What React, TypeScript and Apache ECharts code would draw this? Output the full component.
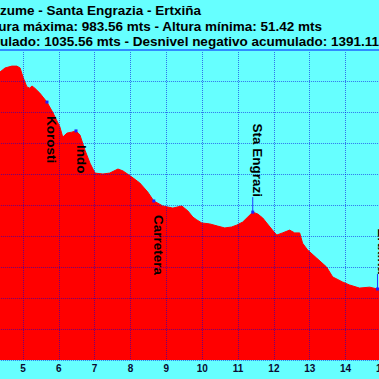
import React, { useEffect, useRef } from "react";
import * as echarts from "echarts";

const distanceKm = [
  4.0, 4.36, 4.5, 4.69, 4.83, 4.92, 5.0, 5.11, 5.19, 5.25, 5.33, 5.47, 5.67, 5.84,
  6.03, 6.11, 6.23, 6.36, 6.48, 6.59, 6.73, 6.87, 7.01, 7.23, 7.42, 7.65, 7.79,
  8.04, 8.26, 8.48, 8.65, 8.9, 9.18, 9.43, 9.6, 9.74, 9.85, 9.99, 10.21, 10.43,
  10.63, 10.82, 10.96, 11.13, 11.27, 11.41, 11.55, 11.69, 11.8, 11.96, 12.08,
  12.24, 12.44, 12.58, 12.72, 12.8, 12.94, 13.19, 13.47, 13.64, 13.91, 14.11,
  14.39, 14.67, 14.89, 15.0,
];
const elevationM = [
  905, 929, 942, 948, 948, 942, 913, 881, 877, 884, 877, 861, 832, 797,
  752, 719, 732, 735, 739, 726, 677, 635, 603, 600, 603, 616, 610,
  590, 571, 542, 513, 497, 490, 497, 481, 461, 452, 442, 439, 432,
  426, 429, 435, 445, 461, 477, 471, 458, 442, 419, 403,
  410, 419, 410, 410, 377, 355, 329, 300, 268, 252, 242,
  232, 235, 229, 225,
];

const waypointNames = ["Korosti", "Indo", "Carretera", "Sta Engrazi", "Ertxiña"];
const waypointKm = [5.67, 6.48, 8.65, 11.41, 14.89];
const waypointElev = [832, 739, 513, 477, 229];
const waypointLabelAbove = [false, false, false, true, true];

const titleLines = [
  "zume - Santa Engrazia - Ertxiña",
  "Altura máxima: 983.56 mts - Altura mínima: 51.42 mts",
  "Desnivel positivo acumulado: 1035.56 mts - Desnivel negativo acumulado: 1391.11 mts",
];

const FONT = '"Liberation Sans", Arial, sans-serif';
// the visible window is a crop of a wider chart canvas
const OX = 30;
const CANVAS_W = 420;

export default function App() {
  const ref = useRef<HTMLDivElement>(null);
  useEffect(() => {
    document.body.style.margin = "0";
    if (!ref.current) return;
    const chart = echarts.init(ref.current, null, { renderer: "svg" });
    const profile = distanceKm.map((d, i) => [d, elevationM[i]]);
    const wps = waypointKm.map((d, i) => [d, waypointElev[i]]);
    const gridLine = { show: true, lineStyle: { color: "rgba(0,0,220,0.55)", type: "dotted", width: 1 } };
    chart.setOption({
      animation: false,
      backgroundColor: "#66ffff",
      grid: { left: OX - 12.9, right: CANVAS_W - (OX + 382.4), top: 50, bottom: 19 },
      xAxis: {
        type: "value",
        min: 4,
        max: 15,
        interval: 1,
        z: 10,
        axisLine: { show: false },
        axisTick: { show: false },
        splitLine: gridLine,
        axisLabel: {
          margin: 3,
          fontSize: 10,
          fontWeight: "bold",
          fontFamily: FONT,
          color: "#0a0a30",
        },
      },
      yAxis: {
        type: "value",
        min: 0,
        max: 1000,
        interval: 100,
        z: 10,
        axisLine: { show: false },
        axisTick: { show: false },
        axisLabel: { show: false },
        splitLine: gridLine,
      },
      series: [
        {
          type: "line",
          data: profile,
          symbol: "none",
          lineStyle: { color: "#ff0000", width: 1 },
          areaStyle: { color: "#ff0000", opacity: 1 },
          z: 2,
        },
        {
          type: "custom",
          z: 20,
          data: wps,
          encode: { x: 0, y: 1 },
          clip: false,
          renderItem: (params: any, api: any) => {
            const p = api.coord([api.value(0), api.value(1)]);
            const i = params.dataIndex;
            const above = waypointLabelAbove[i];
            const children: any[] = [];
            if (above) {
              children.push({
                type: "line",
                shape: { x1: p[0], y1: p[1], x2: p[0], y2: p[1] - 15 },
                style: { stroke: "#1f3cff", lineWidth: 1 },
              });
            }
            children.push({
              type: "rect",
              shape: { x: p[0] - 1.5, y: p[1] - 1.5, width: 3, height: 3 },
              style: { fill: "#2020ff" },
            });
            children.push({
              type: "text",
              x: p[0] + 5,
              y: above ? p[1] - 15 : p[1] + 14,
              rotation: -Math.PI / 2,
              style: {
                text: waypointNames[i],
                font: `bold 13.5px ${FONT}`,
                fill: "#000000",
                align: above ? "right" : "left",
                verticalAlign: "middle",
              },
            });
            return { type: "group", children };
          },
        },
      ],
      graphic: [
        {
          type: "line",
          shape: { x1: 0, y1: 50, x2: CANVAS_W, y2: 50 },
          style: { stroke: "#2f8cff", lineWidth: 2 },
          z: 30,
        },
        {
          type: "text",
          x: OX + 0,
          y: 10,
          style: { text: titleLines[0], font: `bold 13.5px ${FONT}`, fill: "#000", align: "left", verticalAlign: "middle" },
          z: 30,
        },
        {
          type: "text",
          x: OX + 322,
          y: 26,
          style: { text: titleLines[1], font: `bold 13.5px ${FONT}`, fill: "#000", align: "right", verticalAlign: "middle" },
          z: 30,
        },
        {
          type: "text",
          x: OX - 150,
          y: 41,
          style: { text: titleLines[2], font: `bold 13.5px ${FONT}`, fill: "#000", align: "left", verticalAlign: "middle" },
          z: 30,
        },
      ],
    });
    return () => chart.dispose();
  }, []);
  return (
    <div style={{ width: 379, height: 379, overflow: "hidden", position: "relative" }}>
      <div
        ref={ref}
        style={{ position: "absolute", left: -OX, top: 0, width: CANVAS_W, height: 379 }}
      />
    </div>
  );
}
